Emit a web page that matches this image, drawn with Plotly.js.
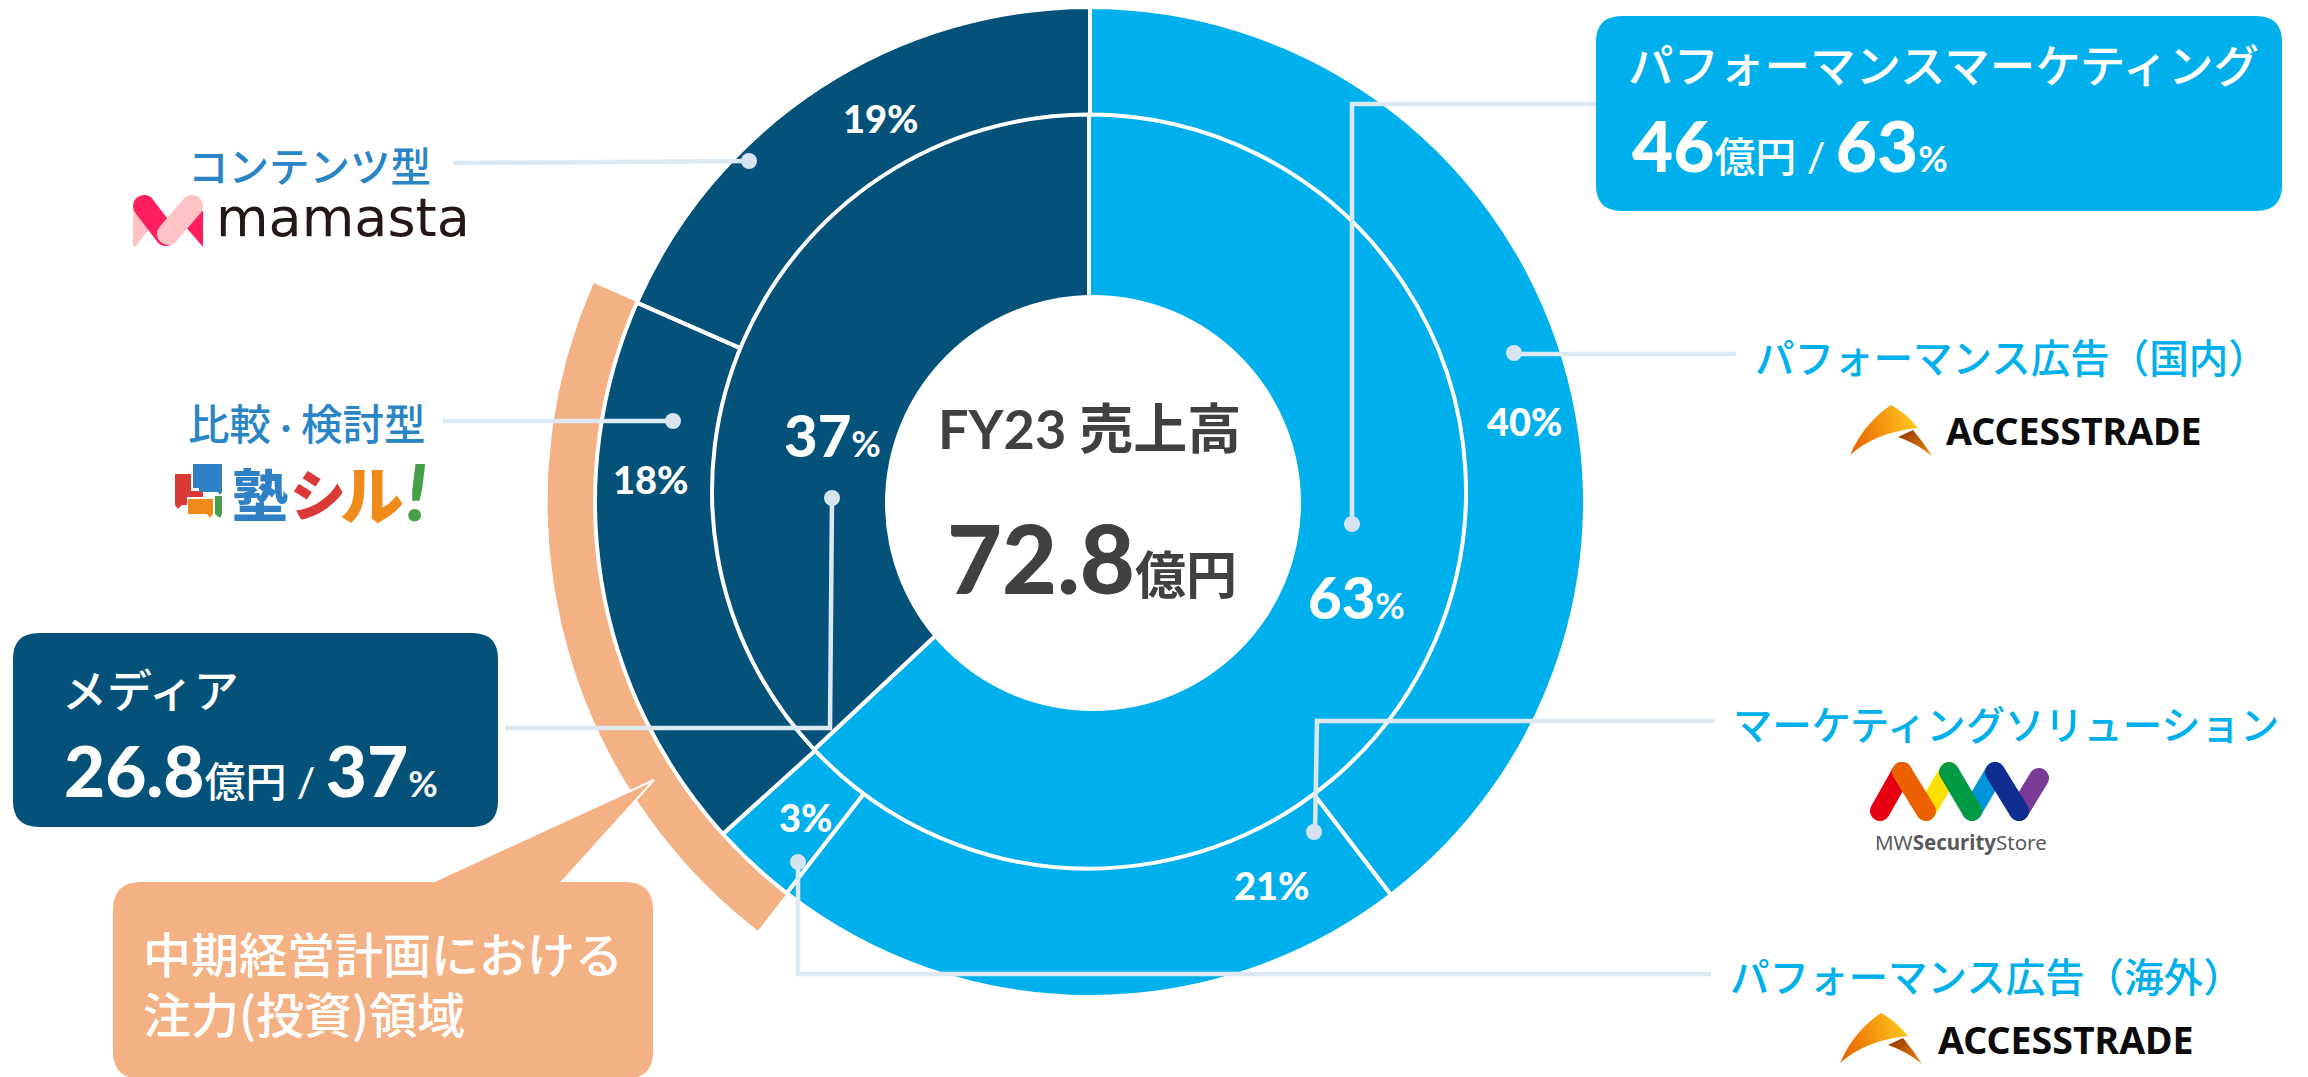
<!DOCTYPE html>
<html lang="ja">
<head>
<meta charset="utf-8">
<script src="https://cdn.plot.ly/plotly-3.0.1.min.js"></script>
<style>
html,body{margin:0;padding:0;background:#fff;overflow:hidden;width:2308px;height:1077px}
#chart{position:absolute;left:0;top:-60px;width:2308px;height:1137px}
</style>
</head>
<body>
<div id="chart"></div>
<script>
// ---- data ----
const innerLabels = ['パフォーマンスマーケティング', 'メディア'];
const innerValues = [63, 37];
const innerAmounts = ['46', '26.8'];
const outerLabels = ['パフォーマンス広告（国内）', 'マーケティングソリューション', 'パフォーマンス広告（海外）', '比較・検討型', 'コンテンツ型'];
const outerPercents = [40, 21, 3, 18, 19];          // as printed on the slices
const outerSweep = [39.6, 20.9, 2.8, 18.3, 18.4];   // as the slices are drawn in the picture
const totalAmount = '72.8';
const focusSegments = [false, false, true, true, false];

// ---- style ----
const LIGHT = '#00b0ec', DARK = '#04527a', PEACH = '#f4b183', LEAD = '#dce9f3', DOT = '#d5e4f0';
const BLUE2 = '#2a85c6', GREY = '#404040', NONE = 'rgba(0,0,0,0)';
const W = 2308, H = 1137, OFF = 60;
const CJK = '"Noto Sans CJK JP","Noto Sans",sans-serif';
const NUM = 'Lato,"Noto Sans CJK JP",sans-serif';
const fx = x => +(x / W).toFixed(6);
const fy = y => +(1 - (y + OFF) / H).toFixed(6);
const pieDomain = (cx, cy, r) => ({x: [fx(cx - r), fx(cx + r)], y: [fy(cy + r), fy(cy - r)]});
const OUT = {cx: 1090, cy: 502, r: 495}, INN = {cx: 1089, cy: 491.5, r: 377}, HOLE = {cx: 1093, cy: 503, r: 208};

const base = {type: 'pie', sort: false, direction: 'clockwise', rotation: 0, textinfo: 'none', hoverinfo: 'label+percent', showlegend: false};
const traces = [
  Object.assign({}, base, {labels: outerLabels, values: outerSweep, domain: pieDomain(OUT.cx, OUT.cy, 542),
    marker: {colors: focusSegments.map(f => f ? PEACH : NONE),
             line: {color: focusSegments.map(f => f ? PEACH : NONE), width: focusSegments.map(f => f ? 1 : 0)}}, hoverinfo: 'skip'}),
  Object.assign({}, base, {labels: outerLabels, values: outerSweep, domain: pieDomain(OUT.cx, OUT.cy, OUT.r),
    marker: {colors: [LIGHT, LIGHT, LIGHT, DARK, DARK], line: {color: '#fff', width: 4}}}),
  Object.assign({}, base, {labels: innerLabels, values: innerValues, domain: pieDomain(INN.cx, INN.cy, INN.r),
    marker: {colors: [LIGHT, DARK], line: {color: '#fff', width: 4}}})
];

// ---- shape helpers ----
const pt = (x, y) => fx(x) + ',' + fy(y);
const poly = (pts, close) => 'M' + pts.map(p => pt(p[0], p[1])).join(' L') + (close ? ' Z' : '');
function rr(x0, y0, x1, y1, r) {
  return 'M' + pt(x0 + r, y0) + ' L' + pt(x1 - r, y0) + ' Q' + pt(x1, y0) + ' ' + pt(x1, y0 + r) +
    ' L' + pt(x1, y1 - r) + ' Q' + pt(x1, y1) + ' ' + pt(x1 - r, y1) +
    ' L' + pt(x0 + r, y1) + ' Q' + pt(x0, y1) + ' ' + pt(x0, y1 - r) +
    ' L' + pt(x0, y0 + r) + ' Q' + pt(x0, y0) + ' ' + pt(x0 + r, y0) + ' Z';
}
const pathShape = (path, fill, lineColor, lw) => ({type: 'path', xref: 'paper', yref: 'paper', layer: 'above', path,
  fillcolor: fill, line: {color: lineColor || NONE, width: lw || 0}});
const circ = (cx, cy, r, fill) => ({type: 'circle', xref: 'paper', yref: 'paper', layer: 'above',
  x0: fx(cx - r), x1: fx(cx + r), y0: fy(cy + r), y1: fy(cy - r), fillcolor: fill, line: {width: 0}});
const lead = pts => pathShape(poly(pts, false), NONE, LEAD, 4.5);

const shapes = [
  circ(HOLE.cx, HOLE.cy, HOLE.r, '#fff'),
  lead([[1596, 104], [1352, 104], [1352, 524]]),
  lead([[1736, 354], [1514, 354]]),
  lead([[1715, 721], [1317, 721], [1315, 832]]),
  lead([[1711, 974], [798, 974], [798, 862]]),
  lead([[453, 163], [749, 161]]),
  lead([[443, 421], [673, 421]]),
  lead([[505, 728], [830, 728], [832, 498]]),
  circ(1352, 524, 8, DOT), circ(1514, 353, 8, DOT), circ(1314, 832, 8, DOT), circ(798, 862, 8, DOT),
  circ(749, 161, 8, DOT), circ(673, 421, 8, DOT), circ(832, 498, 8, DOT),
  pathShape(rr(1596, 16, 2282, 211, 26), LIGHT),
  pathShape(rr(13, 633, 498, 827, 26), DARK),
  pathShape(poly([[654, 780], [428, 884], [560, 884]], true), PEACH, '#fff', 2),
  pathShape(rr(113, 882, 653, 1079, 28), PEACH),
];

// ---- text ----
function T(text, x, y, size, color, opt) {
  opt = opt || {};
  return {text, xref: 'paper', yref: 'paper', x: fx(x), y: fy(y), showarrow: false,
    xanchor: opt.a || 'left', yanchor: 'middle', align: opt.a || 'left',
    font: {family: opt.f || CJK, size, color, weight: opt.w || 500}};
}
const sp = (t, size, w) => `<span style="font-size:${size}px;font-weight:${w || 500}">${t}</span>`;
const amount = (v, p) => `${v}${sp('億円', 41)}${sp(' / ', 41)}${p}${sp('%', 36, 700)}`;
const H1 = {f: NUM, w: 900};
const annotations = [
  T(`FY23 ${'売上高'}`, 936, 428, 54, GREY, {f: NUM, w: 700}),
  T(`${totalAmount}${sp('億円', 51, 700)}`, 945, 557, 95, GREY, H1),
  T(`${innerValues[1]}${sp('%', 36, 700)}`, 782, 434, 58, '#fff', H1),
  T(`${innerValues[0]}${sp('%', 36, 700)}`, 1306, 597, 58, '#fff', H1),
  T(`${outerPercents[0]}%`, 1525, 421, 38, '#fff', {a: 'center', ...H1}),
  T(`${outerPercents[1]}%`, 1272, 885, 38, '#fff', {a: 'center', ...H1}),
  T(`${outerPercents[2]}%`, 805, 817, 38, '#fff', {a: 'center', ...H1}),
  T(`${outerPercents[3]}%`, 651, 479, 38, '#fff', {a: 'center', ...H1}),
  T(`${outerPercents[4]}%`, 881, 118, 38, '#fff', {a: 'center', ...H1}),
  T(innerLabels[0], 1626, 63, 45.5, '#fff'),
  T(amount(innerAmounts[0], innerValues[0]), 1630, 145, 71, '#fff', H1),
  T(innerLabels[1], 60, 689, 45, '#fff'),
  T(amount(innerAmounts[1], innerValues[1]), 62, 769, 71, '#fff', H1),
  T(outerLabels[4], 186, 164, 40.5, BLUE2),
  T(`比較${sp('・', 30)}検討型`, 186, 422, 41.5, BLUE2),
  T(outerLabels[0], 1753, 355, 39.5, LIGHT),
  T(outerLabels[1], 1731, 722, 39.3, LIGHT),
  T(outerLabels[2], 1728, 975, 39.5, LIGHT),
  T('中期経営計画における', 141, 952, 48, '#fff'),
  T('注力(投資)領域', 141, 1012, 48, '#fff'),
  T('mamasta', 214, 218, 54, '#231815', {f: '"DejaVu Sans"', w: 400}),
  T('塾', 230, 491, 56, '#2f80c5', {w: 900}),
  T('シ', 288, 491, 56, '#d93a35', {w: 900}),
  T('ル', 338, 491, 64, '#f08a1a', {w: 900}),
  T('<i>!</i>', 404, 491, 78, '#46a04a', {w: 900, f: NUM}),
  T('ACCESSTRADE', 1944, 431, 37.5, '#0c0c0c', {f: '"Noto Sans"', w: 700}),
  T('ACCESSTRADE', 1936, 1039, 37.5, '#0c0c0c', {f: '"Noto Sans"', w: 700}),
  T('MW<b>Security</b>Store', 1873, 842, 20.5, '#595959', {f: '"Noto Sans"', w: 400}),
];

// ---- logos (marks only, their wording is real text above) ----
const svgUri = (w, h, body) => 'data:image/svg+xml;charset=utf-8,' + encodeURIComponent(
  `<svg xmlns="http://www.w3.org/2000/svg" width="${w}" height="${h}" viewBox="0 0 ${w} ${h}">${body}</svg>`);
const img = (source, x, y, w, h) => ({source, xref: 'paper', yref: 'paper', x: fx(x), y: fy(y),
  sizex: w / W, sizey: h / H, xanchor: 'left', yanchor: 'top', sizing: 'stretch', layer: 'above'});
const atBody = id => `<defs><linearGradient id="a${id}" x1="0" x2="1" y1="0.6" y2="0.4"><stop offset="0" stop-color="#ec6400"/><stop offset="1" stop-color="#fdc81e"/></linearGradient>
<linearGradient id="b${id}" x1="0" x2="1" y1="0" y2="1"><stop offset="0" stop-color="#8f3200"/><stop offset="1" stop-color="#f08a10"/></linearGradient></defs>
<path d="M41 0 Q56 8 68 23 Q26 27 0 50 Q14 18 41 0Z" fill="url(#a${id})"/>
<path d="M48 32 L63 25 Q74 38 82 51 Q66 38 48 32Z" fill="url(#b${id})"/>`;
const mw = (x0, y0, x1, y1, c) => `<line x1="${x0}" y1="${y0}" x2="${x1}" y2="${y1}" stroke="${c}" stroke-width="20" stroke-linecap="round"/>`;
const images = [
  img(svgUri(70, 52, `<path d="M0 14 V50 L2 52 L24 24Z" fill="#ffc2c5"/><path d="M70 16 V52 L46 24Z" fill="#ff1f5e"/>
    <line x1="11" y1="11" x2="33" y2="40" stroke="#ff1f5e" stroke-width="22" stroke-linecap="round"/>
    <line x1="59" y1="11" x2="35" y2="39" stroke="#ffc2c5" stroke-width="22" stroke-linecap="round"/>`), 133, 195, 70, 52),
  img(svgUri(47, 54, `<path d="M0 10 H16 V27 H28 V33 H12 V41 H7 L3 45 L0 41Z" fill="#d93a35"/>
    <path d="M18 0 H47 V28 L45 31 L43 28 H24 V24 H18Z" fill="#2f80c5"/>
    <path d="M13 35 H38 V50 L35 54 L32 50 H13Z" fill="#f08a1a"/>
    <path d="M40 32 H47 V50 L45 54 L40 50Z" fill="#46a04a"/>`), 175, 464, 47, 54),
  img(svgUri(84, 52, atBody(1)), 1850, 405, 84, 52),
  img(svgUri(84, 52, atBody(2)), 1840, 1013, 84, 52),
  img(svgUri(179, 60, mw(10, 49, 32, 10, '#e60012') + mw(56, 49, 79, 10, '#ffe100') + mw(102, 49, 125, 10, '#0095d9') + mw(149, 49, 169, 16, '#7a3b96') +
      mw(32, 10, 56, 49, '#eb6100') + mw(79, 10, 102, 49, '#009944') + mw(125, 10, 149, 49, '#0f2e92')), 1870, 762, 179, 60),
];

Plotly.newPlot('chart', traces, {
  width: W, height: H, margin: {l: 0, r: 0, t: 0, b: 0}, paper_bgcolor: '#fff', showlegend: false,
  shapes, annotations, images
}, {displayModeBar: false, staticPlot: true});
</script>
</body>
</html>
